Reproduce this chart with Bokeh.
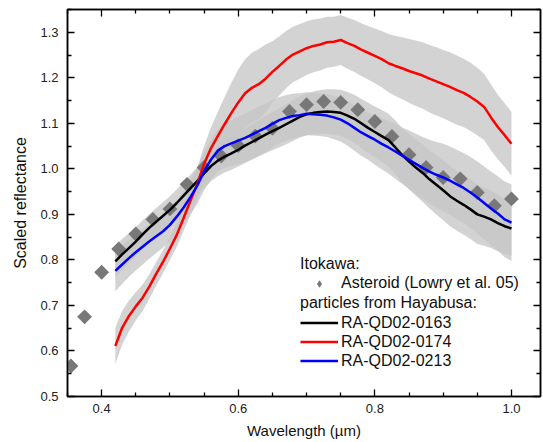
import numpy as np
from bokeh.plotting import figure
from bokeh.models import (Range1d, FixedTicker, LinearAxis, Legend, LegendItem,
                          PrintfTickFormatter)
from bokeh.embed import file_html
from bokeh.resources import INLINE

# ---------------- data ----------------
# Asteroid Itokawa (Lowry et al. 05)
asteroid_wl = [0.355, 0.375, 0.400, 0.425, 0.450, 0.475, 0.500, 0.525, 0.550, 0.575,
               0.600, 0.625, 0.650, 0.675, 0.700, 0.725, 0.750, 0.775, 0.800, 0.825,
               0.850, 0.875, 0.900, 0.925, 0.950, 0.975, 1.000]
asteroid_refl = [0.567, 0.675, 0.773, 0.824, 0.857, 0.889, 0.912, 0.966, 1.003, 1.028,
                 1.051, 1.072, 1.089, 1.126, 1.141, 1.148, 1.146, 1.130, 1.104, 1.071,
                 1.031, 1.003, 0.981, 0.978, 0.948, 0.919, 0.934]

# particle spectra sampled every 0.01 um from 0.42 to 1.00
wavelength = np.round(np.arange(0.42, 1.0001, 0.01), 2)

qd0163 = [0.797, 0.812, 0.826, 0.840, 0.856, 0.871, 0.884, 0.897,
          0.910, 0.925, 0.941, 0.957, 0.973, 0.990, 1.006, 1.018, 1.027, 1.034,
          1.042, 1.051, 1.059, 1.067, 1.075, 1.083, 1.090, 1.098, 1.106, 1.114,
          1.120, 1.123, 1.125, 1.126, 1.125, 1.123, 1.117, 1.110, 1.100, 1.090,
          1.081, 1.072, 1.063, 1.047, 1.030, 1.016, 1.003, 0.991, 0.977, 0.965,
          0.953, 0.940, 0.930, 0.921, 0.911, 0.900, 0.895, 0.889, 0.881, 0.874, 0.869]
qd0174 = [0.611, 0.651, 0.677, 0.698, 0.717, 0.742, 0.770, 0.796,
          0.825, 0.855, 0.892, 0.930, 0.967, 1.011, 1.045, 1.072, 1.098, 1.123,
          1.146, 1.166, 1.178, 1.186, 1.198, 1.213, 1.226, 1.240, 1.251, 1.258,
          1.265, 1.270, 1.273, 1.278, 1.279, 1.283, 1.276, 1.270, 1.262, 1.255,
          1.248, 1.241, 1.232, 1.226, 1.221, 1.215, 1.210, 1.205, 1.198, 1.192,
          1.186, 1.180, 1.173, 1.167, 1.158, 1.148, 1.136, 1.113, 1.092, 1.074, 1.055]
qd0213 = [0.776, 0.790, 0.804, 0.817, 0.829, 0.841, 0.852, 0.863,
          0.877, 0.895, 0.915, 0.938, 0.963, 0.995, 1.020, 1.040, 1.050, 1.056,
          1.062, 1.068, 1.075, 1.083, 1.090, 1.099, 1.107, 1.112, 1.116, 1.118,
          1.121, 1.120, 1.119, 1.117, 1.113, 1.108, 1.100, 1.090, 1.080, 1.072,
          1.064, 1.055, 1.047, 1.038, 1.029, 1.020, 1.011, 1.002, 0.994, 0.987,
          0.981, 0.974, 0.966, 0.958, 0.948, 0.937, 0.925, 0.913, 0.902, 0.889, 0.882]

err0163 = [0.035, 0.034, 0.033, 0.032, 0.031, 0.030, 0.030, 0.030,
           0.030, 0.030, 0.030, 0.030, 0.031, 0.032, 0.033, 0.034, 0.035, 0.036,
           0.037, 0.038, 0.039, 0.040, 0.041, 0.042, 0.043, 0.044, 0.045, 0.045,
           0.046, 0.047, 0.048, 0.049, 0.050, 0.051, 0.052, 0.053, 0.054, 0.055,
           0.056, 0.057, 0.058, 0.059, 0.060, 0.061, 0.062, 0.063, 0.064, 0.065,
           0.066, 0.066, 0.066, 0.066, 0.065, 0.065, 0.064, 0.063, 0.062, 0.061, 0.060]
err0174 = [0.040, 0.037, 0.034, 0.031, 0.029, 0.027, 0.026, 0.025,
           0.025, 0.026, 0.028, 0.031, 0.035, 0.040, 0.046, 0.053, 0.060, 0.066,
           0.072, 0.075, 0.077, 0.077, 0.075, 0.067, 0.065, 0.063, 0.061, 0.060,
           0.059, 0.058, 0.057, 0.056, 0.055, 0.055, 0.056, 0.057, 0.058, 0.059,
           0.060, 0.062, 0.064, 0.066, 0.068, 0.070, 0.072, 0.073, 0.074, 0.075,
           0.075, 0.076, 0.076, 0.075, 0.075, 0.074, 0.073, 0.072, 0.071, 0.070, 0.070]
err0213 = [0.045, 0.043, 0.041, 0.040, 0.039, 0.038, 0.037, 0.036,
           0.036, 0.036, 0.037, 0.038, 0.040, 0.042, 0.044, 0.046, 0.048, 0.050,
           0.052, 0.053, 0.054, 0.054, 0.053, 0.052, 0.051, 0.050, 0.049, 0.048,
           0.047, 0.047, 0.047, 0.047, 0.048, 0.048, 0.049, 0.050, 0.051, 0.052,
           0.055, 0.056, 0.058, 0.060, 0.062, 0.064, 0.066, 0.068, 0.070, 0.072,
           0.074, 0.075, 0.076, 0.077, 0.078, 0.079, 0.080, 0.081, 0.082, 0.083, 0.084]

x_major = [0.4, 0.6, 0.8, 1.0]
x_minor = [0.35, 0.45, 0.5, 0.55, 0.65, 0.7, 0.75, 0.85, 0.9, 0.95, 1.05]
y_major = [0.5, 0.6, 0.7, 0.8, 0.9, 1.0, 1.1, 1.2, 1.3]
y_minor = [0.55, 0.65, 0.75, 0.85, 0.95, 1.05, 1.15, 1.25, 1.35]

FONT = "Liberation Sans"

# ---------------- figure ----------------
p = figure(width=543, height=442, output_backend="svg", toolbar_location=None,
           x_range=Range1d(0.35, 1.0425), y_range=Range1d(0.5, 1.35),
           min_border_left=67, min_border_right=3, min_border_top=9, min_border_bottom=46,
           x_axis_label="Wavelength (µm)", y_axis_label="Scaled reflectance")
p.xgrid.visible = False
p.ygrid.visible = False
p.outline_line_color = "black"
p.outline_line_width = 1.5
p.background_fill_color = "white"
p.border_fill_color = "white"

def style_axis(ax, major, minor, labels=True):
    ax.ticker = FixedTicker(ticks=major, minor_ticks=minor)
    ax.axis_line_color = "black"
    ax.axis_line_width = 1.5
    ax.major_tick_in = 7
    ax.major_tick_out = 0
    ax.minor_tick_in = 4
    ax.minor_tick_out = 0
    ax.major_tick_line_color = "black"
    ax.minor_tick_line_color = "black"
    ax.major_tick_line_width = 1.3
    ax.minor_tick_line_width = 1.3
    if labels:
        ax.formatter = PrintfTickFormatter(format="%.1f")
        ax.major_label_text_font = FONT
        ax.major_label_text_font_size = "13px"
        ax.major_label_text_color = "#222222"
        ax.axis_label_text_font = FONT
        ax.axis_label_text_font_style = "normal"
        ax.axis_label_text_color = "#111111"
    else:
        ax.major_label_overrides = {t: "" for t in major}
        ax.major_label_text_font_size = "1px"
        ax.major_label_standoff = 0

style_axis(p.xaxis[0], x_major, x_minor)
style_axis(p.yaxis[0], y_major, y_minor)
p.xaxis[0].major_label_standoff = 7
p.xaxis[0].axis_label_standoff = 6
p.xaxis[0].axis_label_text_font_size = "15px"
p.yaxis[0].major_label_standoff = 9
p.yaxis[0].axis_label_standoff = 8
p.yaxis[0].axis_label_text_font_size = "16px"

top_ax = LinearAxis()
style_axis(top_ax, x_major, x_minor, labels=False)
p.add_layout(top_ax, "above")
right_ax = LinearAxis()
style_axis(right_ax, y_major, y_minor, labels=False)
p.add_layout(right_ax, "right")

# ---------------- bands ----------------
band_kw = dict(fill_color="#c6c6c6", fill_alpha=0.78)
for vals, err in ((qd0174, err0174), (qd0163, err0163), (qd0213, err0213)):
    v = np.array(vals)
    e = np.array(err)
    p.varea(x=wavelength, y1=v - e, y2=v + e, **band_kw)

# ---------------- asteroid ----------------
# small diamonds hidden under the main markers; used for the legend key
ast_key = p.scatter(asteroid_wl, asteroid_refl, marker="diamond", size=6,
                    fill_color="#787878", line_color=None)
ast = p.scatter(asteroid_wl, asteroid_refl, marker="square", angle=np.pi / 4, size=10.5,
                fill_color="#787878", line_color=None)

# ---------------- lines ----------------
l1 = p.line(wavelength, qd0163, line_color="black", line_width=2.5)
l2 = p.line(wavelength, qd0174, line_color="#ff0000", line_width=2.5)
l3 = p.line(wavelength, qd0213, line_color="#0000ff", line_width=2.5)

leg_kw = dict(label_text_font=FONT, label_text_font_size="16px", label_text_color="#111111",
              title_text_font=FONT, title_text_font_size="16px", title_text_font_style="normal",
              title_text_color="#111111", glyph_width=38, glyph_height=19, label_height=19,
              label_standoff=3, padding=0, margin=0, spacing=0, border_line_color=None,
              background_fill_alpha=0, title_standoff=1)

leg1 = Legend(items=[LegendItem(label="Asteroid (Lowry et al. 05)", renderers=[ast_key])],
              title="Itokawa:", location=(233, 103.5), **leg_kw)
leg2 = Legend(items=[LegendItem(label="RA-QD02-0163", renderers=[l1]),
                     LegendItem(label="RA-QD02-0174", renderers=[l2]),
                     LegendItem(label="RA-QD02-0213", renderers=[l3])],
              title="particles from Hayabusa:", location=(233, 26), **leg_kw)
p.add_layout(leg1, "center")
p.add_layout(leg2, "center")

open("out.html", "w").write(file_html(p, INLINE))
